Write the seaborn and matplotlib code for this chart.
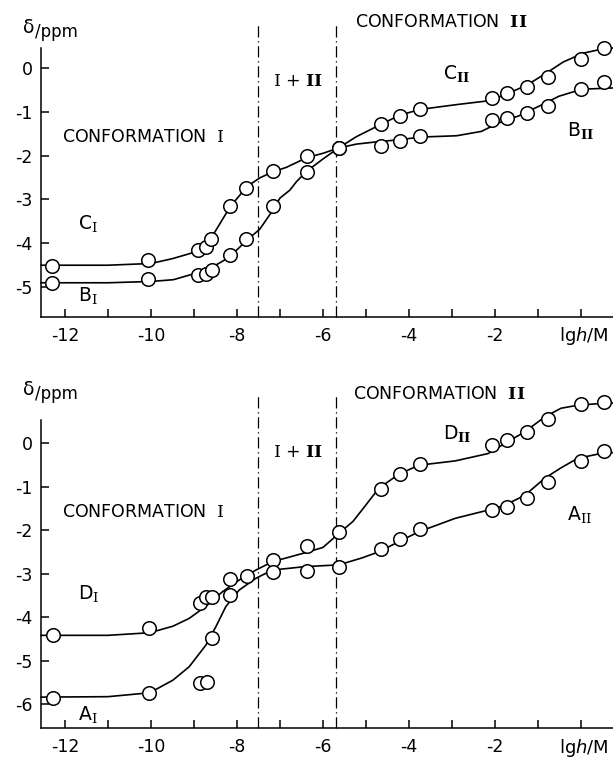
import matplotlib
matplotlib.use("Agg")
import matplotlib.pyplot as plt
import seaborn as sns

sns.set_theme(style="ticks")
plt.rcParams['font.family'] = ['DejaVu Sans']
plt.rcParams['axes.unicode_minus'] = False
plt.rcParams['text.color'] = 'black'
plt.rcParams['axes.labelcolor'] = 'black'
plt.rcParams['xtick.color'] = 'black'
plt.rcParams['ytick.color'] = 'black'
plt.rcParams['mathtext.fontset'] = 'custom'
plt.rcParams['mathtext.rm'] = 'DejaVu Serif'
plt.rcParams['mathtext.bf'] = 'DejaVu Serif:bold'
plt.rcParams['mathtext.it'] = 'DejaVu Sans:italic'

# ---------------- data: top panel (C and B) ----------------
c_pts_x = [-12.31, -10.06, -8.90, -8.71, -8.61, -8.16, -7.78, -7.16, -6.38, -5.63,
           -4.64, -4.21, -3.75, -2.06, -1.72, -1.25, -0.76, 0.01, 0.53]
c_pts_y = [-4.51, -4.37, -4.16, -4.08, -3.90, -3.16, -2.73, -2.36, -2.02, -1.83,
           -1.28, -1.11, -0.94, -0.69, -0.58, -0.43, -0.20, 0.20, 0.45]
b_pts_x = [-12.31, -10.06, -8.90, -8.71, -8.59, -8.16, -7.78, -7.16, -6.38, -5.63,
           -4.64, -4.21, -3.75, -2.06, -1.72, -1.25, -0.76, 0.01, 0.53]
b_pts_y = [-4.90, -4.82, -4.72, -4.69, -4.62, -4.26, -3.90, -3.16, -2.38, -1.83,
           -1.78, -1.68, -1.56, -1.18, -1.15, -1.03, -0.87, -0.49, -0.33]

c_fit_x = [-12.56, -11.0, -10.0, -9.5, -8.94, -8.63, -8.16, -7.77, -7.47, -7.16,
           -6.85, -6.38, -6.0, -5.64, -5.22, -4.67, -4.21, -3.74, -2.89, -2.12,
           -1.73, -1.26, -0.80, -0.41, 0.05, 0.51, 0.75]
c_fit_y = [-4.50, -4.50, -4.46, -4.35, -4.19, -3.93, -3.17, -2.71, -2.51, -2.37,
           -2.27, -2.05, -1.95, -1.83, -1.57, -1.30, -1.08, -0.95, -0.84, -0.75,
           -0.60, -0.40, -0.12, 0.13, 0.33, 0.43, 0.45]
b_fit_x = [-12.56, -11.0, -10.0, -9.48, -9.02, -8.55, -8.32, -8.16, -7.77, -7.47,
           -7.16, -7.0, -6.77, -6.61, -6.38, -6.0, -5.64, -5.22, -4.67, -4.21,
           -3.74, -2.89, -2.31, -1.92, -1.45, -0.98, -0.51, 0.02, 0.75]
b_fit_y = [-4.90, -4.90, -4.87, -4.83, -4.70, -4.53, -4.40, -4.30, -3.93, -3.68,
           -3.24, -2.97, -2.79, -2.59, -2.36, -2.08, -1.83, -1.74, -1.68, -1.64,
           -1.58, -1.55, -1.45, -1.26, -1.10, -0.88, -0.65, -0.49, -0.46]

# ---------------- data: bottom panel (D and A) ----------------
d_pts_x = [-12.27, -10.04, -8.86, -8.71, -8.59, -8.16, -7.76, -7.16, -6.38, -5.63,
           -4.65, -4.21, -3.75, -2.06, -1.72, -1.25, -0.76, 0.01, 0.53]
d_pts_y = [-4.41, -4.26, -3.67, -3.55, -3.55, -3.13, -3.06, -2.69, -2.37, -2.04,
           -1.06, -0.70, -0.49, -0.05, 0.08, 0.26, 0.55, 0.89, 0.95]
a_pts_x = [-12.27, -10.04, -8.86, -8.69, -8.59, -8.16, -7.16, -6.38, -5.63,
           -4.65, -4.21, -3.75, -2.06, -1.72, -1.25, -0.76, 0.01, 0.53]
a_pts_y = [-5.87, -5.75, -5.52, -5.49, -4.48, -3.49, -2.96, -2.94, -2.84,
           -2.44, -2.21, -1.98, -1.54, -1.46, -1.27, -0.90, -0.41, -0.18]

d_fit_x = [-12.56, -11.0, -10.03, -9.49, -9.11, -8.72, -8.34, -7.95, -7.56, -7.18,
           -6.41, -6.0, -5.63, -5.30, -5.06, -4.70, -4.24, -3.77, -2.92, -2.15,
           -1.77, -1.30, -0.84, -0.46, -0.07, 0.47, 0.75]
d_fit_y = [-4.42, -4.42, -4.36, -4.21, -4.03, -3.75, -3.42, -3.15, -2.92, -2.73,
           -2.52, -2.40, -2.08, -1.80, -1.50, -1.04, -0.72, -0.51, -0.41, -0.24,
           -0.01, 0.26, 0.60, 0.80, 0.87, 0.91, 0.92]
a_fit_x = [-12.56, -11.0, -10.03, -9.49, -9.11, -8.72, -8.49, -8.26, -7.95, -7.56,
           -7.18, -6.41, -5.63, -5.09, -4.70, -4.24, -3.77, -2.92, -2.15, -1.77,
           -1.30, -0.84, -0.46, -0.07, 0.47, 0.75]
a_fit_y = [-5.84, -5.83, -5.74, -5.45, -5.14, -4.64, -4.22, -3.76, -3.38, -3.11,
           -2.92, -2.84, -2.80, -2.64, -2.50, -2.27, -2.04, -1.73, -1.54, -1.43,
           -1.20, -0.81, -0.57, -0.35, -0.24, -0.22]

region_bounds = [-7.5, -5.7]
x_ticks = list(range(-12, 1))
x_ticklabels = ["-12", "", "-10", "", "-8", "", "-6", "", "-4", "", "-2", "", ""]
top_yticks = [-5, -4, -3, -2, -1, 0]
bot_yticks = [-6, -5, -4, -3, -2, -1, 0]

W, H = 613, 762
fig = plt.figure(figsize=(W / 100, H / 100), dpi=100)

def px_axes(left, right, top, bottom):
    return fig.add_axes([left / W, 1 - bottom / H, (right - left) / W, (bottom - top) / H])

ax1 = px_axes(41, 613, 48, 317)
ax2 = px_axes(41, 613, 420, 728)

FS = 12.5

def style(ax, ylim, yticks, vtop):
    ax.set_xlim(-12.56, 0.75)
    ax.set_ylim(*ylim)
    ax.set_xticks(x_ticks)
    ax.set_xticklabels(x_ticklabels)
    ax.set_yticks(yticks)
    ax.set_yticklabels([str(v) for v in yticks])
    ax.tick_params(direction='in', length=6, width=1.1, labelsize=FS,
                   color='black', labelcolor='black')
    ax.tick_params(axis='x', pad=7)
    ax.tick_params(axis='y', pad=6)
    for s in ['top', 'right']:
        ax.spines[s].set_visible(False)
    for s in ['left', 'bottom']:
        ax.spines[s].set_color('black')
        ax.spines[s].set_linewidth(1.1)
    ax.set_xlabel("")
    ax.set_ylabel("")
    for xb in region_bounds:
        ax.plot([xb, xb], [ylim[0], vtop], color='black', lw=0.9,
                linestyle=(0, (9, 3, 1, 3)), clip_on=False, zorder=1)
    ax.text(0.993, -0.03, "lg$h$/M", transform=ax.transAxes, ha='right', va='top',
            fontsize=FS + 0.5, color='black')

def draw(ax, fx, fy, px, py):
    sns.lineplot(x=fx, y=fy, sort=False, estimator=None, color='black', lw=1.2,
                 ax=ax, clip_on=False, zorder=2)
    sns.scatterplot(x=px, y=py, s=95, facecolor='white', edgecolor='black',
                    linewidth=1.1, ax=ax, clip_on=False, zorder=3)

draw(ax1, c_fit_x, c_fit_y, c_pts_x, c_pts_y)
draw(ax1, b_fit_x, b_fit_y, b_pts_x, b_pts_y)
draw(ax2, d_fit_x, d_fit_y, d_pts_x, d_pts_y)
draw(ax2, a_fit_x, a_fit_y, a_pts_x, a_pts_y)

style(ax1, (-5.68, 0.45), top_yticks, 1.05)
style(ax2, (-6.55, 0.53), bot_yticks, 1.15)

# annotations top
ax1.text(-12.07, -1.57, r"CONFORMATION  $\mathrm{I}$", fontsize=FS, va='center', ha='left')
ax1.text(-7.16, -0.30, r"$\mathrm{I}$ + $\mathbf{II}$", fontsize=FS, va='center', ha='left')
ax1.text(-5.26, 1.05, r"CONFORMATION  $\mathbf{II}$", fontsize=FS, va='center', ha='left')
ax1.text(-11.70, -3.58, r"C$_{\mathrm{I}}$", fontsize=FS + 1, va='center', ha='left')
ax1.text(-11.70, -5.22, r"B$_{\mathrm{I}}$", fontsize=FS + 1, va='center', ha='left')
ax1.text(-3.21, -0.16, r"C$_{\mathbf{II}}$", fontsize=FS + 1, va='center', ha='left')
ax1.text(-0.33, -1.46, r"B$_{\mathbf{II}}$", fontsize=FS + 1, va='center', ha='left')

# annotations bottom
ax2.text(-12.07, -1.59, r"CONFORMATION  $\mathrm{I}$", fontsize=FS, va='center', ha='left')
ax2.text(-7.16, -0.20, r"$\mathrm{I}$ + $\mathbf{II}$", fontsize=FS, va='center', ha='left')
ax2.text(-5.30, 1.13, r"CONFORMATION  $\mathbf{II}$", fontsize=FS, va='center', ha='left')
ax2.text(-11.70, -3.47, r"D$_{\mathrm{I}}$", fontsize=FS + 1, va='center', ha='left')
ax2.text(-11.70, -6.27, r"A$_{\mathrm{I}}$", fontsize=FS + 1, va='center', ha='left')
ax2.text(-3.21, 0.20, r"D$_{\mathbf{II}}$", fontsize=FS + 1, va='center', ha='left')
ax2.text(-0.33, -1.66, r"A$_{\mathrm{II}}$", fontsize=FS + 1, va='center', ha='left')

# axis titles (delta / ppm)
for ytop in (18, 380):
    fig.text(23 / W, 1 - ytop / H, "δ", fontsize=FS + 1, ha='left', va='top')
    fig.text(35 / W, 1 - (ytop + 5) / H, "/ppm", fontsize=FS - 0.5, ha='left', va='top')

fig.savefig("out.png", dpi=100, facecolor='white')
